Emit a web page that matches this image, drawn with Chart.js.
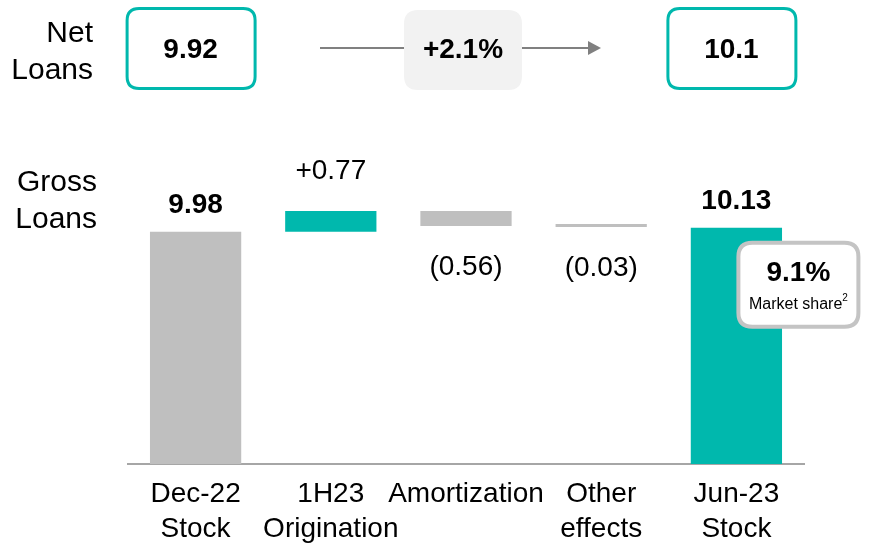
<!DOCTYPE html>
<html>
<head>
<meta charset="utf-8">
<script src="https://cdn.jsdelivr.net/npm/chart.js@4.4.0/dist/chart.umd.min.js"></script>
<style>
  html, body { margin: 0; padding: 0; background: #fff; overflow: hidden; }
  canvas { display: block; }
</style>
</head>
<body>
<canvas id="loansChart" width="871" height="565"></canvas>
<script>
// gross loans bridge, bn
const categories = [['Dec-22', 'Stock'], ['1H23', 'Origination'], 'Amortization', ['Other', 'effects'], ['Jun-23', 'Stock']];
const stockValues = [9.98, 10.13];
const flowValues = [0.77, -0.56, -0.03];
const valueLabels = ['9.98', '+0.77', '(0.56)', '(0.03)', '10.13'];
const netLoans = ['9.92', '10.1'];
const netGrowth = '+2.1%';
const marketShare = '9.1%';

const FONT = '"Liberation Sans", Arial, sans-serif';
const TEAL = '#00b8ad';
const GREY = '#bfbfbf';
const Y_MIN = 1.4;
const Y_MAX = 13.0;

// floating ranges for the waterfall
const ranges = [[Y_MIN, stockValues[0]]];
let running = stockValues[0];
flowValues.forEach(f => {
    const next = running + f;
    ranges.push([Math.min(running, next), Math.max(running, next)]);
    running = next;
});
ranges.push([Y_MIN, stockValues[1]]);

const barColors = [GREY, TEAL, GREY, GREY, TEAL];

function rrect(ctx, x, y, w, h, r) {
    ctx.beginPath();
    ctx.moveTo(x + r, y);
    ctx.lineTo(x + w - r, y);
    ctx.quadraticCurveTo(x + w, y, x + w, y + r);
    ctx.lineTo(x + w, y + h - r);
    ctx.quadraticCurveTo(x + w, y + h, x + w - r, y + h);
    ctx.lineTo(x + r, y + h);
    ctx.quadraticCurveTo(x, y + h, x, y + h - r);
    ctx.lineTo(x, y + r);
    ctx.quadraticCurveTo(x, y, x + r, y);
    ctx.closePath();
}

const bridgeLabels = {
    id: 'bridgeLabels',
    afterDatasetsDraw(chart) {
        const ctx = chart.ctx;
        const bars = chart.getDatasetMeta(0).data;
        ctx.save();
        ctx.fillStyle = '#000';
        ctx.textAlign = 'center';
        ctx.textBaseline = 'middle';

        bars.forEach((bar, i) => {
            const top = Math.min(bar.y, bar.base);
            const bottom = Math.max(bar.y, bar.base);
            if (i === 0 || i === 4) {
                ctx.font = 'bold 28px ' + FONT;
                ctx.fillText(valueLabels[i], bar.x, top - 26);
            } else if (flowValues[i - 1] >= 0) {
                ctx.font = '28px ' + FONT;
                ctx.fillText(valueLabels[i], bar.x, top - 40);
            } else {
                ctx.font = '28px ' + FONT;
                ctx.fillText(valueLabels[i], bar.x, bottom + 41);
            }
        });

        // market share callout over the last bar
        const last = bars[4];
        const bx = last.x + 2, by = last.y + 15, bw = 120, bh = 84;
        rrect(ctx, bx, by, bw, bh, 14);
        ctx.fillStyle = '#fff';
        ctx.fill();
        ctx.lineWidth = 4;
        ctx.strokeStyle = '#c4c4c4';
        ctx.stroke();
        ctx.fillStyle = '#000';
        ctx.font = 'bold 28px ' + FONT;
        ctx.fillText(marketShare, bx + bw / 2, by + 31);
        ctx.font = '16px ' + FONT;
        const ms = 'Market share';
        const msw = ctx.measureText(ms).width;
        ctx.font = '10px ' + FONT;
        const supW = ctx.measureText('2').width;
        const sx = bx + bw / 2 - (msw + supW) / 2;
        ctx.textAlign = 'left';
        ctx.font = '16px ' + FONT;
        ctx.fillText(ms, sx, by + 62);
        ctx.font = '10px ' + FONT;
        ctx.fillText('2', sx + msw, by + 56);

        // row titles
        ctx.textAlign = 'right';
        ctx.font = '30px ' + FONT;
        ctx.fillText('Gross', 97, 183);
        ctx.fillText('Loans', 97, 220);
        ctx.fillText('Net', 93, 34);
        ctx.fillText('Loans', 93, 71);

        // net loans header
        ctx.strokeStyle = '#808080';
        ctx.lineWidth = 2;
        ctx.beginPath();
        ctx.moveTo(320, 48);
        ctx.lineTo(590, 48);
        ctx.stroke();
        ctx.fillStyle = '#808080';
        ctx.beginPath();
        ctx.moveTo(588, 41);
        ctx.lineTo(601, 48);
        ctx.lineTo(588, 55);
        ctx.closePath();
        ctx.fill();

        rrect(ctx, 404, 10, 118, 80, 14);
        ctx.fillStyle = '#f2f2f2';
        ctx.fill();

        [[bars[0].x - 70, netLoans[0]], [bars[4].x - 70, netLoans[1]]].forEach(([x, t]) => {
            rrect(ctx, x + 1.5, 8.5, 128, 80, 12);
            ctx.fillStyle = '#fff';
            ctx.fill();
            ctx.lineWidth = 3;
            ctx.strokeStyle = TEAL;
            ctx.stroke();
            ctx.fillStyle = '#000';
            ctx.textAlign = 'center';
            ctx.font = 'bold 28px ' + FONT;
            ctx.fillText(t, x + 65, 50);
        });
        ctx.fillText(netGrowth, 463, 50);
        ctx.restore();
    }
};

const ctx = document.getElementById('loansChart').getContext('2d');
const loansChart = new Chart(ctx, {
    type: 'bar',
    data: {
        labels: categories,
        datasets: [{
            data: ranges,
            backgroundColor: barColors,
            borderWidth: 0,
            borderSkipped: false,
            minBarLength: 3,
            barPercentage: 0.9,
            categoryPercentage: 0.75
        }]
    },
    options: {
        responsive: false,
        animation: false,
        layout: {
            padding: { left: 128, right: 67, top: 150, bottom: 5 }
        },
        plugins: {
            legend: { display: false },
            tooltip: { enabled: false }
        },
        scales: {
            x: {
                grid: { display: false, drawTicks: false },
                border: { color: '#a6a6a6', width: 2 },
                ticks: {
                    color: '#000',
                    padding: 13,
                    maxRotation: 0,
                    autoSkip: false,
                    font: { family: FONT, size: 28, lineHeight: 1.25 }
                }
            },
            y: {
                display: false,
                min: Y_MIN,
                max: Y_MAX
            }
        }
    },
    plugins: [bridgeLabels]
});
</script>
</body>
</html>
